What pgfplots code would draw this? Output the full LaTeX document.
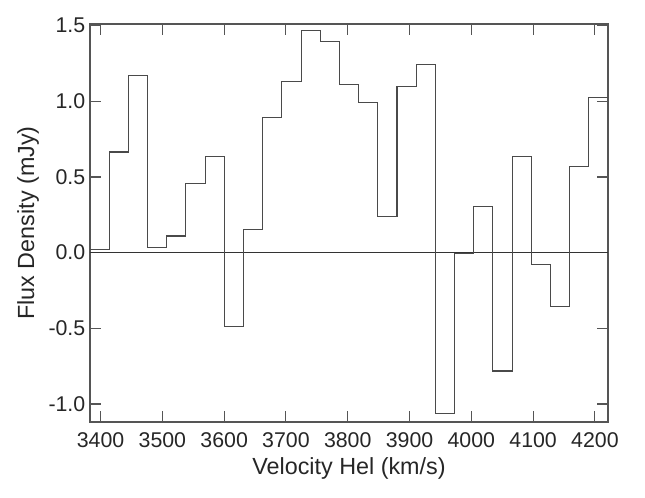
\documentclass[border=0pt]{standalone}
\usepackage{fontspec}
\setmainfont{Liberation Sans}
\usepackage{pgfplots}
\pgfplotsset{compat=1.18}
\definecolor{frame}{HTML}{555555}
\definecolor{stepline}{HTML}{4A4A4A}
\begin{document}
\begin{tikzpicture}
\begin{axis}[
  name=main,
  scale only axis,
  width=388.5pt, height=298.5pt,
  xmin=3382.85, xmax=4221.2,
  ymin=-1.119, ymax=1.511,
  axis line style={frame, line width=0.8pt},
  tick style={frame, line width=0.8pt},
  tick align=inside,
  major tick length=8.5pt,
  xtick={3400,3500,3600,3700,3800,3900,4000,4100,4200},
  xticklabels={3400,3500,3600,3700,3800,3900,4000,4100,4200},
  ytick={-1,-0.5,0,0.5,1,1.5},
  yticklabels={-1.0,-0.5,0.0,0.5,1.0,1.5},
  tick label style={font=\fontsize{16}{19}\selectfont, text=black!85},
  xticklabel style={yshift=-4.5pt},
  xlabel={Velocity Hel (km/s)},
  ylabel={Flux Density (mJy)},
  label style={font=\fontsize{17.5}{21}\selectfont, text=black!85, inner sep=0pt},
  xlabel style={at={(axis description cs:0.5,-0.1307)}, anchor=base},
  ylabel style={at={(axis description cs:-0.108,0.5)}, anchor=base},
  clip=true,
]
% zero line
\addplot[black!80, line width=0.8pt] coordinates {(3382.85,0) (4221.2,0)};
% spectrum (value held from each left edge to the next)
\addplot[stepline, line width=0.8pt, const plot] coordinates {
(3382.85, 0.022)
(3413.90, 0.665)
(3444.95, 1.172)
(3476.00, 0.037)
(3507.05, 0.110)
(3538.10, 0.458)
(3569.15, 0.634)
(3600.20, -0.490)
(3631.25, 0.156)
(3662.30, 0.892)
(3693.35, 1.130)
(3724.40, 1.469)
(3755.45, 1.394)
(3786.50, 1.114)
(3817.55, 0.991)
(3848.60, 0.238)
(3879.65, 1.097)
(3910.70, 1.245)
(3941.75, -1.062)
(3972.80, -0.005)
(4003.85, 0.308)
(4034.90, -0.782)
(4065.95, 0.638)
(4097.00, -0.077)
(4128.05, -0.357)
(4159.10, 0.568)
(4190.15, 1.028)
(4221.20, 1.028)
};
\end{axis}
% page margins as in the reference
\pgfresetboundingbox
\useasboundingbox ([shift={(-67.5pt,-57pt)}]main.south west) rectangle ([shift={(27.75pt,18pt)}]main.north east);
\end{tikzpicture}
\end{document}
